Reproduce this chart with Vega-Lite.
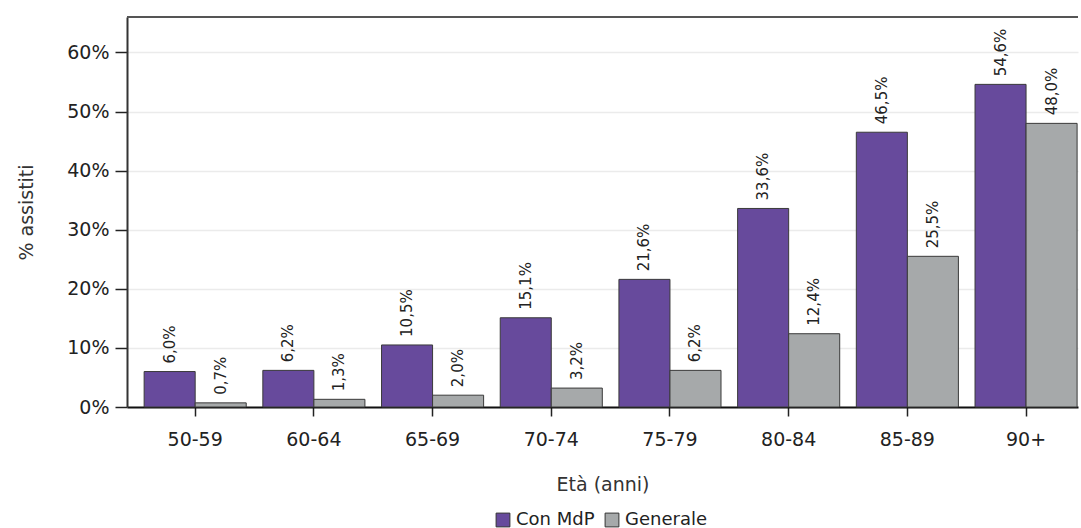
{
  "$schema": "https://vega.github.io/schema/vega-lite/v6.json",
  "width": 951,
  "height": 390,
  "autosize": "none",
  "padding": {"left": 127, "top": 17, "right": 3, "bottom": 121},
  "background": "white",
  "config": {
    "locale": {"number": {"decimal": ",", "thousands": ".", "grouping": [3], "currency": ["€", ""]}},
    "view": {"stroke": null},
    "font": "DejaVu Sans"
  },
  "data": {
    "values": [
      {"eta": "50-59", "gruppo": "Con MdP", "valore": 0.060},
      {"eta": "50-59", "gruppo": "Generale", "valore": 0.007},
      {"eta": "60-64", "gruppo": "Con MdP", "valore": 0.062},
      {"eta": "60-64", "gruppo": "Generale", "valore": 0.013},
      {"eta": "65-69", "gruppo": "Con MdP", "valore": 0.105},
      {"eta": "65-69", "gruppo": "Generale", "valore": 0.020},
      {"eta": "70-74", "gruppo": "Con MdP", "valore": 0.151},
      {"eta": "70-74", "gruppo": "Generale", "valore": 0.032},
      {"eta": "75-79", "gruppo": "Con MdP", "valore": 0.216},
      {"eta": "75-79", "gruppo": "Generale", "valore": 0.062},
      {"eta": "80-84", "gruppo": "Con MdP", "valore": 0.336},
      {"eta": "80-84", "gruppo": "Generale", "valore": 0.124},
      {"eta": "85-89", "gruppo": "Con MdP", "valore": 0.465},
      {"eta": "85-89", "gruppo": "Generale", "valore": 0.255},
      {"eta": "90+", "gruppo": "Con MdP", "valore": 0.546},
      {"eta": "90+", "gruppo": "Generale", "valore": 0.480}
    ]
  },
  "layer": [
    {
      "mark": {"type": "bar", "stroke": "#3a3a3a", "strokeWidth": 1},
      "encoding": {
        "x": {
          "field": "eta", "type": "nominal", "sort": null,
          "scale": {"paddingInner": 0.14, "paddingOuter": 0.076, "align": 0.95},
          "axis": {
            "title": "Età (anni)", "titleFont": "DejaVu Sans", "titleFontSize": 19, "titleFontWeight": "normal", "titleColor": "#333",
            "titlePadding": 26, "grid": false,
            "labelAngle": 0, "labelFont": "DejaVu Sans", "labelFontSize": 19, "labelColor": "#222", "labelPadding": 14,
            "domainColor": "#111", "domainWidth": 2, "tickColor": "#222", "tickWidth": 1.5, "tickSize": 9
          }
        },
        "y": {
          "field": "valore", "type": "quantitative",
          "scale": {"domain": [0, 0.66], "nice": false, "zero": true},
          "axis": {
            "title": "% assistiti", "titleFont": "DejaVu Sans", "titleFontSize": 19, "titleFontWeight": "normal", "titleColor": "#333",
            "titlePadding": 30,
            "format": ".0%", "values": [0, 0.1, 0.2, 0.3, 0.4, 0.5, 0.6],
            "labelFont": "DejaVu Sans", "labelFontSize": 19, "labelColor": "#222", "labelPadding": 6,
            "domainColor": "#333", "domainWidth": 2, "tickColor": "#222", "tickWidth": 1.5, "tickSize": 12,
            "gridColor": "#ebebeb", "gridWidth": 1.5
          }
        },
        "xOffset": {"field": "gruppo", "type": "nominal", "scale": {"paddingInner": 0, "paddingOuter": 0}},
        "color": {
          "field": "gruppo", "type": "nominal",
          "scale": {"domain": ["Con MdP", "Generale"], "range": ["#674a9c", "#a6a9aa"]},
          "legend": {
            "title": null, "orient": "none", "direction": "horizontal",
            "legendX": 367, "legendY": 494,
            "symbolType": "square", "symbolSize": 190, "symbolStrokeColor": "#333", "symbolStrokeWidth": 1,
            "labelFont": "DejaVu Sans", "labelFontSize": 18, "labelColor": "#222", "columnPadding": 8, "labelOffset": 4
          }
        }
      }
    },
    {
      "mark": {"type": "text", "angle": 270, "align": "left", "baseline": "middle", "dx": 8, "font": "DejaVu Sans", "fontSize": 15, "color": "#222"},
      "encoding": {
        "x": {"field": "eta", "type": "nominal", "sort": null},
        "y": {"field": "valore", "type": "quantitative"},
        "xOffset": {"field": "gruppo", "type": "nominal"},
        "text": {"field": "valore", "type": "quantitative", "format": ".1%"}
      }
    },
    {
      "mark": {"type": "rule", "color": "#555", "strokeWidth": 2},
      "encoding": {"y": {"datum": 0.66}}
    }
  ]
}
